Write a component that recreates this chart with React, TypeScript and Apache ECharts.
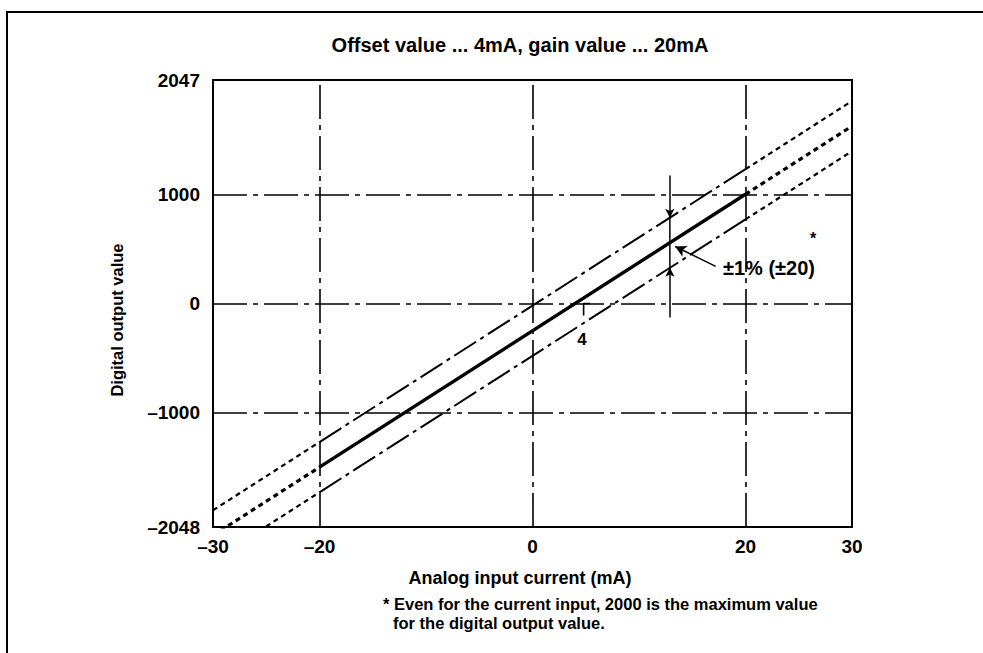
import React, { useEffect, useRef } from "react";
import * as echarts from "echarts";

// ---- data ----
const inputMA = [-30, -20, 20, 30];
const idealOutput = [-2125, -1500, 1000, 1625];
const upperLimit = [-1895, -1270, 1230, 1855];
const lowerLimit = [-2355, -1730, 770, 1395];

const xTicks = [-30, -20, 0, 20, 30];
const yTicks = [-2048, -1000, 0, 1000, 2047];
const xGrid = [-20, 0, 20];
const yGrid = [-1000, 0, 1000];

// ±1% bracket (x position, top end, upper tip, lower tip, bottom end)
const bracketX = 12.9;
const bracketY = [1173, 786, 326, -128];
// pointer from label to ideal line
const pointerFrom = [17.2, 339];
const pointerTo = [13.4, 522];
// offset marker "4"
const offsetMarkX = 4.8;
const offsetMarkY = [0, -110];

const FONT = "'Liberation Sans', Arial, Helvetica, sans-serif";

const fmt = (v: number) => (v < 0 ? "\u2013" + Math.abs(v) : String(v));

function seg(name: string, ys: number[], i: number, j: number, width: number, type: any) {
  return {
    name,
    type: "line",
    data: [
      [inputMA[i], ys[i]],
      [inputMA[j], ys[j]],
    ],
    showSymbol: false,
    symbol: "none",
    clip: true,
    silent: true,
    lineStyle: { color: "#000", width, type, cap: "butt" },
    z: 5,
  };
}

export default function App() {
  const ref = useRef<HTMLDivElement>(null);
  useEffect(() => {
    if (!ref.current) return;
    const chart = echarts.init(ref.current, null, { renderer: "svg" });
    const dashDot = [26, 5, 4, 5];
    const dotted = [5, 4];
    const gridDash = [34, 6, 5, 6];

    const series: any[] = [
      seg("ideal", idealOutput, 1, 2, 3.4, "solid"),
      seg("ideal-l", idealOutput, 0, 1, 3.2, dotted),
      seg("ideal-r", idealOutput, 2, 3, 3.2, dotted),
      seg("upper", upperLimit, 1, 2, 2, dashDot),
      seg("upper-l", upperLimit, 0, 1, 2.2, dotted),
      seg("upper-r", upperLimit, 2, 3, 2.2, dotted),
      seg("lower", lowerLimit, 1, 2, 2, dashDot),
      seg("lower-l", lowerLimit, 0, 1, 2.2, dotted),
      seg("lower-r", lowerLimit, 2, 3, 2.2, dotted),
      {
        name: "grid",
        type: "line",
        data: [],
        silent: true,
        markLine: {
          silent: true,
          symbol: "none",
          label: { show: false },
          lineStyle: { color: "#000", width: 1.6, type: gridDash },
          data: [
            ...xGrid.map((x) => ({ xAxis: x })),
            ...yGrid.map((y) => ({ yAxis: y })),
          ],
        },
        z: 2,
      },
      {
        name: "bracket-mid",
        type: "line",
        data: [
          [bracketX, bracketY[1]],
          [bracketX, bracketY[2]],
        ],
        symbol: "none",
        silent: true,
        lineStyle: { color: "#000", width: 1.5 },
      },
      {
        name: "offset-mark",
        type: "line",
        data: [
          [offsetMarkX + 0.6, offsetMarkY[0]],
          [offsetMarkX, offsetMarkY[0]],
          [offsetMarkX, offsetMarkY[1]],
        ],
        symbol: "none",
        silent: true,
        lineStyle: { color: "#000", width: 1.6 },
      },
      {
        name: "arrows",
        type: "line",
        data: [],
        silent: true,
        markLine: {
          silent: true,
          symbol: ["none", "arrow"],
          symbolSize: [7, 9],
          label: { show: false },
          lineStyle: { color: "#000", width: 1.5, type: "solid" },
          data: [
            [{ coord: [bracketX, bracketY[0]] }, { coord: [bracketX, bracketY[1]] }],
            [{ coord: [bracketX, bracketY[3]] }, { coord: [bracketX, bracketY[2]] }],
            [{ coord: pointerFrom }, { coord: pointerTo, symbolSize: [9, 11] }],
          ],
        },
      },
    ];

    chart.setOption({
      animation: false,
      grid: {
        left: 213,
        right: 131,
        top: 80,
        bottom: 126,
        show: true,
        borderColor: "#000",
        borderWidth: 2,
        backgroundColor: "transparent",
      },
      xAxis: {
        type: "value",
        min: -30,
        max: 30,
        interval: 10,
        axisLine: { show: false },
        axisTick: { show: false },
        splitLine: { show: false },
        axisLabel: {
          customValues: xTicks,
          formatter: fmt,
          color: "#000",
          fontFamily: FONT,
          fontSize: 19,
          fontWeight: "bold",
          margin: 10,
        },
      },
      yAxis: {
        type: "value",
        min: -2048,
        max: 2047,
        axisLine: { show: false },
        axisTick: { show: false },
        splitLine: { show: false },
        axisLabel: {
          customValues: yTicks,
          formatter: fmt,
          color: "#000",
          fontFamily: FONT,
          fontSize: 19,
          fontWeight: "bold",
          margin: 13,
        },
      },
      series,
      graphic: [
        {
          type: "rect",
          shape: { x: 7, y: 12, width: 1000, height: 700 },
          style: { fill: "none", stroke: "#000", lineWidth: 2 },
          silent: true,
        },
        {
          type: "text",
          x: 520,
          y: 45,
          style: {
            text: "Offset value ... 4mA, gain value ... 20mA",
            fill: "#000",
            font: `bold 20px ${FONT}`,
            align: "center",
            verticalAlign: "middle",
          },
        },
        {
          type: "text",
          x: 117,
          y: 320,
          rotation: Math.PI / 2,
          style: {
            text: "Digital output value",
            fill: "#000",
            font: `bold 16.5px ${FONT}`,
            align: "center",
            verticalAlign: "middle",
          },
        },
        {
          type: "text",
          x: 520,
          y: 578,
          style: {
            text: "Analog input current (mA)",
            fill: "#000",
            font: `bold 18px ${FONT}`,
            align: "center",
            verticalAlign: "middle",
          },
        },
        {
          type: "text",
          x: 383,
          y: 604,
          style: {
            text: "* Even for the current input, 2000 is the maximum value",
            fill: "#000",
            font: `bold 16.5px ${FONT}`,
            align: "left",
            verticalAlign: "middle",
          },
        },
        {
          type: "text",
          x: 393,
          y: 623,
          style: {
            text: "for the digital output value.",
            fill: "#000",
            font: `bold 16.5px ${FONT}`,
            align: "left",
            verticalAlign: "middle",
          },
        },
        {
          type: "text",
          x: 723,
          y: 268,
          style: {
            text: "\u00b11% (\u00b120)",
            fill: "#000",
            font: `bold 20px ${FONT}`,
            align: "left",
            verticalAlign: "middle",
          },
        },
        {
          type: "text",
          x: 813,
          y: 238,
          style: {
            text: "*",
            fill: "#000",
            font: `bold 16px ${FONT}`,
            align: "center",
            verticalAlign: "middle",
          },
        },
        {
          type: "text",
          x: 582,
          y: 339,
          style: {
            text: "4",
            fill: "#000",
            font: `bold 17px ${FONT}`,
            align: "center",
            verticalAlign: "middle",
          },
        },
      ],
    });
    return () => chart.dispose();
  }, []);
  return (
    <div
      ref={ref}
      style={{ position: "fixed", left: 0, top: 0, width: 983, height: 653, background: "#fff" }}
    />
  );
}
